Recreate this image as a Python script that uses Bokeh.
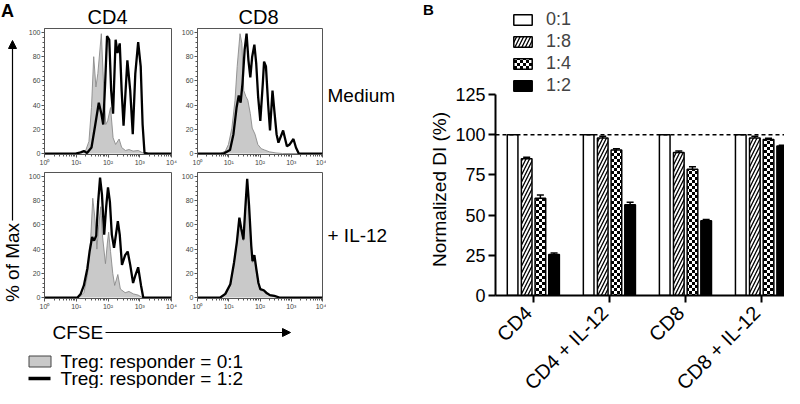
import math
from bokeh.plotting import figure
from bokeh.layouts import row, column
from bokeh.models import (Range1d, FixedTicker, CustomJSTickFormatter, Arrow, NormalHead,
                          Span, Whisker, TeeHead, ColumnDataSource, CanvasTexture)
from bokeh.transform import dodge
from bokeh.core.properties import value
from bokeh.embed import file_html
from bokeh.resources import INLINE

FONT = "Liberation Sans"

# ---------------- Panel A: CFSE histograms (log10 CFSE, % of max) ----------------
# CD4, Medium
cd4_med_ctrl_logx = [0.0, 0.98, 1.29, 1.40, 1.48, 1.55, 1.62, 1.68, 1.79, 1.87, 1.93, 1.99,
                     2.08, 2.16, 2.24, 2.35, 2.43, 2.55, 2.66, 2.79, 2.95, 3.10, 3.26, 4.0]
cd4_med_ctrl_pct = [0, 0, 2, 10, 38, 80, 55, 66, 99, 52, 24, 27,
                    38, 13, 7.5, 12, 5, 2.5, 3.3, 2, 2.5, 0.5, 0, 0]
cd4_med_treg_logx = [0.0, 0.98, 1.14, 1.24, 1.34, 1.48, 1.60, 1.71, 1.79, 1.85, 1.91, 1.97,
                     2.04, 2.10, 2.16, 2.24, 2.30, 2.37, 2.43, 2.49, 2.61, 2.70, 2.78, 2.86,
                     2.95, 3.03, 3.09, 3.15, 3.26, 4.0]
cd4_med_treg_pct = [0, 0, 1, 2, 0.5, 5, 24, 42, 33, 24, 58, 97,
                    94, 52, 33, 94, 83, 91, 52, 23, 77, 52, 16, 66,
                    92, 72, 24, 0.5, 0, 0]
# CD8, Medium
cd8_med_ctrl_logx = [0.0, 0.73, 0.89, 0.99, 1.10, 1.20, 1.27, 1.36, 1.42, 1.48, 1.55, 1.61,
                     1.69, 1.75, 1.84, 1.93, 2.04, 2.14, 2.30, 2.51, 2.72, 4.0]
cd8_med_ctrl_pct = [0, 0, 2, 7.5, 21, 44, 72, 99, 91, 52, 47, 44,
                    33, 21, 16, 7.5, 4, 3, 1.4, 0.5, 0, 0]
cd8_med_treg_logx = [0.0, 0.84, 1.04, 1.15, 1.25, 1.32, 1.38, 1.44, 1.51, 1.57, 1.63, 1.69,
                     1.75, 1.82, 1.88, 1.94, 2.01, 2.09, 2.13, 2.19, 2.26, 2.32, 2.40, 2.46,
                     2.53, 2.59, 2.74, 2.86, 2.95, 3.07, 3.15, 3.24, 4.0]
cd8_med_treg_pct = [0, 0, 3, 16, 38, 48, 42, 58, 86, 99, 77, 63,
                    80, 90, 74, 47, 27, 58, 76, 72, 41, 19, 52, 35,
                    16, 9, 19, 6, 7.5, 12, 5, 0, 0]
# CD4, + IL-12
cd4_il12_ctrl_logx = [0.0, 1.09, 1.24, 1.35, 1.45, 1.52, 1.59, 1.65, 1.71, 1.77, 1.83, 1.92,
                      1.98, 2.02, 2.08, 2.15, 2.21, 2.31, 2.39, 2.54, 2.66, 2.80, 2.95, 3.08, 4.0]
cd4_il12_ctrl_pct = [0, 0, 4, 18, 46, 82, 65, 40, 60, 75, 50, 28,
                     45, 54, 38, 20, 10, 19, 7, 4, 5, 3, 2, 0, 0]
cd4_il12_treg_logx = [0.0, 1.04, 1.14, 1.24, 1.35, 1.42, 1.50, 1.56, 1.63, 1.69, 1.75, 1.81,
                      1.88, 1.94, 2.00, 2.06, 2.12, 2.19, 2.25, 2.31, 2.37, 2.44, 2.54, 2.62,
                      2.70, 2.79, 2.87, 2.95, 3.04, 3.11, 4.0]
cd4_il12_treg_pct = [0, 0, 3, 10, 24, 38, 50, 47, 51, 79, 99, 85,
                     52, 74, 91, 79, 52, 41, 52, 63, 52, 27, 35, 38,
                     27, 12, 19, 25, 10, 0, 0]
# CD8, + IL-12
cd8_il12_logx = [0.0, 0.73, 0.89, 1.05, 1.17, 1.26, 1.34, 1.40, 1.47, 1.53, 1.59, 1.65,
                 1.72, 1.76, 1.82, 1.88, 1.95, 2.01, 2.12, 2.20, 2.32, 2.46, 2.62, 4.0]
cd8_il12_ctrl_pct = [0, 0, 2, 10, 28, 44, 64, 55, 47, 72, 96, 74,
                     41, 29, 33, 22, 11, 6, 5, 3, 1.5, 1, 0, 0]
cd8_il12_treg_pct = [0, 0, 3, 11, 29, 46, 66, 57, 48, 74, 98, 76,
                     43, 30, 35, 24, 12, 7, 6, 4, 2, 1.4, 0, 0]

cfse_ticks = [1, 10, 100, 1000, 10000]
pct_ticks = [0, 20, 40, 60, 80, 100]

# ---------------- Panel B: normalized division index ----------------
groups = ["CD4", "CD4 + IL-12", "CD8", "CD8 + IL-12"]
ratio_labels = ["0:1", "1:8", "1:4", "1:2"]
di_0_1 = [100, 100, 100, 100]
di_1_8 = [85, 98, 89, 98]
di_1_4 = [60.5, 90.5, 78.5, 97]
di_1_2 = [25.5, 56.5, 46.5, 93]
sem_0_1 = [0, 0, 0, 0]
sem_1_8 = [1, 1, 0.8, 1]
sem_1_4 = [2, 0.8, 1.5, 0.8]
sem_1_2 = [1, 1.5, 0.8, 0.5]
di_ticks = [0, 25, 50, 75, 100, 125]
reference_level = 100

AXC = "#555555"
LBL = "#444444"


def hist(w, h, bl, br, bt, bb, ctrl_x, ctrl_y, treg_x, treg_y):
    p = figure(width=w, height=h, x_axis_type="log", x_range=Range1d(1, 1e4),
               y_range=Range1d(-0.8, 103.3), output_backend="svg", toolbar_location=None,
               min_border_left=bl, min_border_right=br, min_border_top=bt,
               min_border_bottom=bb)
    p.xgrid.grid_line_color = None
    p.ygrid.grid_line_color = None
    p.outline_line_color = AXC
    p.outline_line_width = 1
    xs_c = [10 ** v for v in ctrl_x]
    xs_t = [10 ** v for v in treg_x]
    p.varea(x=xs_c, y1=0, y2=ctrl_y, fill_color="#c9c9c9")
    p.line(xs_c, ctrl_y, line_color="#8a8a8a", line_width=0.9)
    p.line(xs_t, treg_y, line_color="black", line_width=2.3)
    p.xaxis.ticker = FixedTicker(ticks=cfse_ticks,
                                 minor_ticks=[m * 10 ** e for e in range(4) for m in range(2, 10)])
    p.xaxis.formatter = CustomJSTickFormatter(code=r"""
        const e = Math.round(Math.log10(tick));
        const sup = ["\u2070", "\u00b9", "\u00b2", "\u00b3", "\u2074"];
        return "10" + sup[e];
    """)
    p.yaxis.ticker = FixedTicker(ticks=pct_ticks, minor_ticks=list(range(0, 101, 4)))
    for ax in (p.xaxis, p.yaxis):
        ax.axis_line_color = AXC
        ax.major_tick_line_color = AXC
        ax.minor_tick_line_color = AXC
        ax.major_tick_out = 3
        ax.major_tick_in = 0
        ax.minor_tick_out = 2
        ax.minor_tick_in = 0
        ax.major_label_text_font = FONT
        ax.major_label_text_font_size = "7px"
        ax.major_label_text_color = LBL
        ax.major_label_standoff = 1
    return p


def deco(w, h, x_range=None, bl=0):
    p = figure(width=w, height=h, x_range=x_range if x_range is not None else Range1d(0, w),
               y_range=Range1d(0, h), output_backend="svg", toolbar_location=None,
               min_border=0, min_border_left=bl, min_border_right=0, min_border_top=0,
               min_border_bottom=0, x_axis_location=None, y_axis_location=None)
    p.xgrid.grid_line_color = None
    p.ygrid.grid_line_color = None
    p.outline_line_color = None
    return p


def txt(p, x, y, s, size="19px", align="left", baseline="middle", style="normal", angle=0):
    p.text(x=[x], y=[y], text=[s], text_font=value(FONT), text_font_size=value(size),
           text_align=align, text_baseline=baseline, text_font_style=style, angle=angle,
           text_color="black")


# histograms
tl = hist(153, 140, 17, 7, 0, 13, cd4_med_ctrl_logx, cd4_med_ctrl_pct,
          cd4_med_treg_logx, cd4_med_treg_pct)
tr = hist(148, 140, 16, 4, 0, 13, cd8_med_ctrl_logx, cd8_med_ctrl_pct,
          cd8_med_treg_logx, cd8_med_treg_pct)
bl = hist(153, 144, 17, 7, 4, 13, cd4_il12_ctrl_logx, cd4_il12_ctrl_pct,
          cd4_il12_treg_logx, cd4_il12_treg_pct)
br = hist(148, 144, 16, 4, 4, 13, cd8_il12_logx, cd8_il12_ctrl_pct,
          cd8_il12_logx, cd8_il12_treg_pct)

# header
header = deco(410, 28)
txt(header, 0.5, 27.5, "A", size="18px", baseline="top", style="bold")
txt(header, 107, 12, "CD4", size="20px", align="center")
txt(header, 258, 12, "CD8", size="20px", align="center")

# left strip
strip_l = deco(25, 284)
strip_l.add_layout(Arrow(end=NormalHead(size=8, fill_color="black", line_color="black"),
                         x_start=12, y_start=92, x_end=12, y_end=272,
                         line_width=1.2, line_color="black"))
txt(strip_l, 11.5, 50, "% of Max", align="center", angle=math.pi / 2)

# right strip
strip_r = deco(84, 284)
txt(strip_r, 1, 217, "Medium")
txt(strip_r, 1, 77, "+ IL-12")

# footer
footer = deco(410, 76)
txt(footer, 52, 56, "CFSE")
footer.add_layout(Arrow(end=NormalHead(size=8, fill_color="black", line_color="black"),
                        x_start=105, y_start=56, x_end=290, y_end=56,
                        line_width=1.2, line_color="black"))
footer.rect(x=[39.5], y=[27], width=[22], height=[11], fill_color="#c9c9c9",
            line_color="#444444", line_width=1)
txt(footer, 60, 27, "Treg: responder = 0:1")
footer.segment(x0=[28], y0=[10], x1=[50], y1=[10], line_color="black", line_width=3.5)
txt(footer, 60, 10, "Treg: responder = 1:2")

panel_a = column(header,
                 row(strip_l, column(row(tl, tr), row(bl, br)), strip_r),
                 footer)

# ---------------- Panel B ----------------
group_pos = [i + 0.5 for i in range(len(groups))]
PB_W, PB_LEFT = 332, 43
xr = Range1d(0, 3.8)

pb = figure(width=PB_W, height=306, x_range=xr, y_range=Range1d(0, 182.2),
            output_backend="svg", toolbar_location=None,
            min_border_left=PB_LEFT, min_border_right=0, min_border_top=2, min_border_bottom=11)
pb.xgrid.grid_line_color = None
pb.ygrid.grid_line_color = None
pb.outline_line_color = None

pb.add_layout(Span(location=reference_level, dimension="width", line_dash="4 3",
                   line_width=1.5, line_color="black"))

checker = CanvasTexture(code="""
    ctx.canvas.width = 6;
    ctx.canvas.height = 6;
    ctx.fillStyle = "#000000";
    ctx.fillRect(0, 0, 3, 3);
    ctx.fillRect(3, 3, 3, 3);
""")

offsets = [-0.275, -0.09, 0.09, 0.27]
series = [di_0_1, di_1_8, di_1_4, di_1_2]
errors = [sem_0_1, sem_1_8, sem_1_4, sem_1_2]
styles = [
    dict(fill_color="white"),
    dict(fill_color="white", hatch_pattern="right_diagonal_line", hatch_color="black",
         hatch_scale=7, hatch_weight=1.3),
    dict(fill_color="white", hatch_pattern=value("checker"), hatch_extra={"checker": checker},
         hatch_color="black", hatch_scale=6),
    dict(fill_color="black"),
]
for lab, vals, errs, off, st in zip(ratio_labels, series, errors, offsets, styles):
    src = ColumnDataSource(dict(pos=group_pos, v=vals,
                                up=[a + b for a, b in zip(vals, errs)]))
    pb.vbar(x=dodge("pos", off), top="v", width=0.14, source=src,
            line_color="black", line_width=1.5, legend_label=lab, **st)
    if any(errs):
        w = Whisker(source=src, base=dodge("pos", off), upper="up", lower="v",
                    upper_head=TeeHead(size=7, line_width=1.5, line_color="black"),
                    lower_head=None, line_width=1.5, line_color="black")
        w.level = "overlay"
        pb.add_layout(w)

pb.yaxis.bounds = (0, 125)
pb.yaxis.ticker = FixedTicker(ticks=di_ticks, minor_ticks=[])
pb.xaxis.ticker = FixedTicker(ticks=group_pos, minor_ticks=[])
pb.xaxis.formatter = CustomJSTickFormatter(code='return "";')
pb.xaxis.major_label_text_font_size = "1px"
pb.xaxis.major_label_standoff = 0
for ax in (pb.xaxis, pb.yaxis):
    ax.axis_line_width = 2
    ax.axis_line_color = "black"
    ax.major_tick_line_width = 2
    ax.major_tick_line_color = "black"
    ax.major_tick_out = 7
    ax.major_tick_in = 0
    ax.minor_tick_line_color = None
pb.yaxis.major_label_text_font = FONT
pb.yaxis.major_label_text_font_size = "18px"
pb.yaxis.major_label_text_color = "black"
pb.yaxis.major_label_standoff = 3

lg = pb.legend[0]
lg.location = (16, 199)
lg.padding = 0
lg.margin = 0
lg.spacing = 1
lg.border_line_color = None
lg.background_fill_alpha = 0
lg.label_text_font = FONT
lg.label_text_font_size = "18px"
lg.glyph_width = 23
lg.glyph_height = 13
lg.label_height = 13
lg.label_standoff = 12

# category labels (rotated) on the same x scale; frame covers the whole strip
unit_px = (PB_W - PB_LEFT) / (xr.end - xr.start)
try:
    xlab = deco(PB_W, 82, x_range=Range1d(xr.start - PB_LEFT / unit_px, xr.end), bl=0)
    xlab.frame_align = False
except AttributeError:
    xlab = deco(PB_W, 82, x_range=xr, bl=PB_LEFT)
xlab.text(x=group_pos, y=[74] * len(groups), text=groups, angle=math.pi / 4,
          text_font=value(FONT), text_font_size=value("20px"), text_align="right",
          text_baseline="middle", x_offset=-5, y_offset=-5, text_color="black")

# strip with panel letter and y-axis title
strip_b = deco(42, 388)
txt(strip_b, 12.5, 387.5, "B", size="15px", baseline="top", style="bold")
txt(strip_b, 29, 199, "Normalized DI (%)", align="center", angle=math.pi / 2)

layout = row(panel_a, strip_b, column(pb, xlab))

with open("out.html", "w", encoding="utf-8") as f:
    f.write(file_html(layout, INLINE))
